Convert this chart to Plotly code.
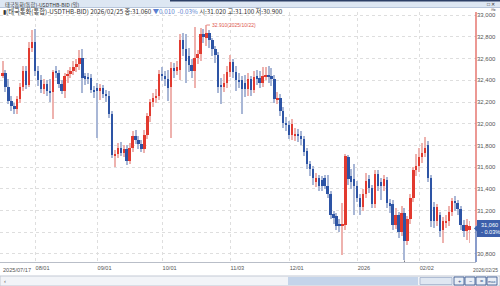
import plotly.graph_objects as go
import pandas as pd

# ---------------- data ----------------
dates = [d.strftime("%Y-%m-%d") for d in pd.bdate_range("2025-07-17", "2026-02-25")
         if d.strftime("%Y-%m-%d") != "2026-01-01"]

opens = [32.44, 32.47, 32.34, 32.21, 32.16, 32.14, 32.23, 32.34, 32.49, 32.36,
         32.70, 32.75, 32.49, 32.40, 32.32, 32.37, 32.30, 32.29, 32.48, 32.47,
         32.37, 32.30, 32.44, 32.46, 32.49, 32.52, 32.55, 32.61, 32.44, 32.43,
         32.42, 32.31, 32.33, 32.30, 32.33, 32.27, 32.26, 32.09, 31.70, 31.72,
         31.78, 31.73, 31.77, 31.66, 31.78, 31.89, 31.85, 31.81, 31.77, 31.90,
         32.07, 32.20, 32.24, 32.26, 32.46, 32.44, 32.41, 32.34, 32.51, 32.49,
         32.50, 32.77, 32.69, 32.62, 32.54, 32.49, 32.61, 32.64, 32.83, 32.79,
         32.84, 32.77, 32.69, 32.63, 32.36, 32.34, 32.38, 32.48, 32.57, 32.48,
         32.40, 32.40, 32.38, 32.32, 32.41, 32.31, 32.44, 32.42, 32.38, 32.44,
         32.45, 32.44, 32.41, 32.22, 32.24, 32.12, 32.01, 31.99, 31.90, 31.89,
         31.91, 31.89, 31.86, 31.75, 31.63, 31.58, 31.46, 31.50, 31.48, 31.50,
         31.43, 31.35, 31.17, 31.15, 31.07, 31.06, 31.07, 31.69, 31.52, 31.49,
         31.43, 31.32, 31.23, 31.35, 31.49, 31.41, 31.26, 31.54, 31.46, 31.43,
         31.48, 31.27, 31.26, 31.07, 31.16, 31.00, 31.18, 30.92, 31.12, 31.32,
         31.57, 31.61, 31.69, 31.73, 31.80, 31.50, 31.23, 31.10, 31.16, 31.02,
         31.09, 31.10, 31.19, 31.29, 31.27, 31.21, 31.07, 31.01, 31.02]

highs = [32.58, 32.50, 32.41, 32.26, 32.19, 32.26, 32.38, 32.53, 32.53, 32.75,
         32.86, 32.87, 32.53, 32.45, 32.41, 32.40, 32.41, 32.50, 32.53, 32.50,
         32.40, 32.47, 32.50, 32.52, 32.58, 32.60, 32.68, 32.69, 32.47, 32.47,
         32.46, 32.35, 32.38, 32.37, 32.36, 32.31, 32.30, 32.12, 31.76, 31.82,
         31.83, 31.80, 31.80, 31.82, 31.93, 31.94, 31.89, 31.85, 31.94, 32.10,
         32.23, 32.28, 32.32, 32.50, 32.52, 32.49, 32.50, 32.57, 32.56, 32.58,
         32.83, 32.84, 32.83, 32.70, 32.60, 32.89, 32.68, 32.88, 32.87, 32.91,
         32.86, 32.79, 32.72, 32.66, 32.42, 32.46, 32.53, 32.63, 32.60, 32.53,
         32.47, 32.44, 32.45, 32.47, 32.44, 32.49, 32.50, 32.49, 32.52, 32.52,
         32.53, 32.51, 32.45, 32.29, 32.27, 32.15, 32.06, 32.03, 32.04, 31.96,
         31.95, 31.93, 31.89, 31.78, 31.66, 31.61, 31.55, 31.53, 31.52, 31.53,
         31.53, 31.38, 31.20, 31.18, 31.12, 31.27, 31.72, 31.71, 31.58, 31.63,
         31.47, 31.35, 31.40, 31.55, 31.53, 31.44, 31.57, 31.57, 31.50, 31.53,
         31.51, 31.31, 31.30, 31.22, 31.19, 31.24, 31.22, 31.15, 31.35, 31.60,
         31.72, 31.78, 31.82, 31.88, 31.84, 31.53, 31.28, 31.26, 31.19, 31.14,
         31.16, 31.24, 31.32, 31.33, 31.30, 31.24, 31.11, 31.12, 31.10]

lows = [32.42, 32.29, 32.18, 32.12, 32.09, 32.09, 32.19, 32.30, 32.32, 32.34,
        32.66, 32.44, 32.35, 32.28, 32.27, 32.26, 32.20, 32.04, 32.42, 32.33,
        32.27, 32.24, 32.38, 32.42, 32.45, 32.48, 32.50, 32.28, 32.36, 32.37,
        32.28, 32.24, 31.87, 32.22, 32.24, 32.20, 32.05, 31.68, 31.60, 31.68,
        31.70, 31.69, 31.62, 31.63, 31.74, 31.81, 31.77, 31.74, 31.73, 31.86,
        32.02, 32.15, 32.19, 32.22, 32.39, 32.35, 32.21, 31.87, 32.42, 32.45,
        32.40, 32.62, 32.38, 32.48, 32.42, 32.33, 32.55, 32.58, 32.74, 32.72,
        32.70, 32.62, 32.56, 32.28, 32.18, 32.29, 32.33, 32.43, 32.42, 32.30,
        32.33, 32.09, 32.25, 32.26, 32.26, 32.28, 32.36, 32.33, 32.34, 32.40,
        32.38, 32.35, 32.19, 32.18, 32.07, 31.96, 31.93, 31.86, 31.85, 31.84,
        31.83, 31.80, 31.70, 31.58, 31.52, 31.44, 31.42, 31.38, 31.38, 31.40,
        31.32, 31.12, 31.08, 31.02, 31.00, 30.79, 31.02, 31.44, 31.40, 31.16,
        31.28, 31.16, 31.20, 31.32, 31.36, 31.22, 31.22, 31.38, 31.30, 31.38,
        31.22, 31.18, 31.02, 31.03, 30.95, 30.97, 30.74, 30.88, 31.08, 31.28,
        31.52, 31.56, 31.64, 31.69, 31.46, 31.05, 31.04, 31.06, 30.96, 30.90,
        31.04, 31.06, 31.15, 31.20, 31.16, 31.02, 30.96, 30.93, 30.90]

closes = [32.47, 32.34, 32.21, 32.16, 32.14, 32.23, 32.34, 32.49, 32.36, 32.70,
          32.75, 32.49, 32.40, 32.32, 32.37, 32.30, 32.29, 32.48, 32.47, 32.37,
          32.30, 32.44, 32.46, 32.49, 32.52, 32.55, 32.61, 32.42, 32.41, 32.42,
          32.31, 32.29, 32.30, 32.33, 32.27, 32.26, 32.09, 31.71, 31.72, 31.78,
          31.73, 31.77, 31.66, 31.78, 31.89, 31.85, 31.81, 31.77, 31.90, 32.07,
          32.20, 32.24, 32.26, 32.46, 32.44, 32.41, 32.33, 32.51, 32.49, 32.52,
          32.77, 32.69, 32.58, 32.54, 32.49, 32.61, 32.64, 32.83, 32.80, 32.84,
          32.77, 32.69, 32.63, 32.34, 32.34, 32.38, 32.48, 32.57, 32.48, 32.40,
          32.39, 32.32, 32.32, 32.41, 32.31, 32.43, 32.41, 32.38, 32.44, 32.45,
          32.43, 32.41, 32.23, 32.24, 32.12, 32.01, 31.99, 31.90, 32.00, 31.91,
          31.89, 31.86, 31.74, 31.63, 31.58, 31.50, 31.50, 31.43, 31.43, 31.43,
          31.35, 31.16, 31.13, 31.06, 31.06, 31.08, 31.70, 31.49, 31.46, 31.43,
          31.32, 31.23, 31.35, 31.47, 31.41, 31.26, 31.54, 31.43, 31.43, 31.49,
          31.27, 31.24, 31.07, 31.16, 31.00, 31.18, 30.92, 31.12, 31.32, 31.57,
          31.61, 31.69, 31.73, 31.78, 31.50, 31.10, 31.10, 31.23, 31.01, 31.10,
          31.10, 31.19, 31.29, 31.27, 31.21, 31.07, 31.01, 31.07, 31.06]

ytick_vals = [30.8, 31.0, 31.2, 31.4, 31.6, 31.8, 32.0, 32.2, 32.4, 32.6, 32.8, 33.0]
ytick_text = ["30,800", "", "31,200", "31,400", "31,600", "31,800", "32,000",
              "32,200", "32,400", "32,600", "32,800", "33,000"]
xtick_vals = ["2025-08-01", "2025-09-01", "2025-10-01", "2025-11-03",
              "2025-12-01", "2026-01-02", "2026-02-02"]
xtick_text = ["08/01", "09/01", "10/01", "11/03", "12/01", "2026", "02/02"]

last_close = 31.06
hi_val, hi_date = 32.91, "2025-10-22"
lo_val, lo_date = 30.74, "2026-01-26"

# ---------------- styling ----------------
W, H = 500, 286
PX_L, PX_R = 0, 476          # plot area in pixels
PY_T, PY_B = 12, 262
Y_LO, Y_HI = 30.726, 33.030

UP_BODY, DN_BODY = "#e23a2f", "#2d54a5"
UP_WICK, DN_WICK = "#eeb2ae", "#a9b7d6"
GRID = "#dedede"
FONT = "Liberation Sans"
KFONT = "Noto Sans CJK KR"


def px(x):
    return x / W


def py(y):
    return 1 - y / H


up = [c >= o for o, c in zip(opens, closes)]
wick_col = [UP_WICK if u else DN_WICK for u in up]
body_col = [UP_BODY if u else DN_BODY for u in up]
body_base = [min(o, c) for o, c in zip(opens, closes)]
body_len = [max(abs(c - o), 0.006) for o, c in zip(opens, closes)]
wick_len = [h - l for h, l in zip(highs, lows)]

fig = go.Figure()
fig.add_trace(go.Bar(x=dates, y=wick_len, base=lows, width=0.34,
                     marker=dict(color=wick_col, line=dict(width=0)),
                     hoverinfo="skip"))
fig.add_trace(go.Bar(x=dates, y=body_len, base=body_base, width=0.8,
                     marker=dict(color=body_col, line=dict(width=0)),
                     hoverinfo="skip"))

n = len(dates)
fig.update_layout(
    width=W, height=H, margin=dict(l=0, r=0, t=0, b=0),
    paper_bgcolor="white", plot_bgcolor="white",
    showlegend=False, barmode="overlay", bargap=0,
    xaxis=dict(type="category", domain=[px(PX_L), px(PX_R)],
               range=[-0.85, n + 1.2],
               tickmode="array", tickvals=xtick_vals, ticktext=xtick_text,
               showgrid=True, gridcolor=GRID, griddash="dot", gridwidth=1,
               ticks="", ticklabelposition="outside right",
               tickfont=dict(family=FONT, size=5.6, color="#555"),
               showline=True, linecolor="#b9bec8", linewidth=1,
               zeroline=False, automargin=False),
    yaxis=dict(domain=[1 - PY_B / H, 1 - PY_T / H], range=[Y_LO, Y_HI],
               side="right", tickmode="array", tickvals=ytick_vals, ticktext=ytick_text,
               showgrid=True, gridcolor=GRID, griddash="dot", gridwidth=1,
               ticks="", tickfont=dict(family=FONT, size=6, color="#555"),
               showline=False, zeroline=False, automargin=False),
)

shapes = []
annots = []

# header bands
shapes.append(dict(type="rect", xref="paper", yref="paper", x0=0, x1=1,
                   y0=py(7.5), y1=py(0), fillcolor="#dde7f3", line=dict(width=0), layer="above"))
shapes.append(dict(type="rect", xref="paper", yref="paper", x0=px(170), x1=1,
                   y0=py(1.6), y1=py(0), fillcolor="#2c3f66", line=dict(width=0), layer="above"))
shapes.append(dict(type="line", xref="paper", yref="paper", x0=0, x1=1,
                   y0=py(7.5), y1=py(7.5), line=dict(color="#b7c6db", width=1)))
annots.append(dict(x=px(3), y=py(4.6), xref="paper", yref="paper", showarrow=False,
                   xanchor="left", yanchor="middle",
                   text="태국통화(통합)-USDTHB-BID (일)",
                   font=dict(family=KFONT, size=5.2, color="#333")))
annots.append(dict(x=px(485), y=py(4.4), xref="paper", yref="paper", showarrow=False,
                   xanchor="left", yanchor="middle", text="□ ✕",
                   font=dict(family=FONT, size=5, color="#333")))
annots.append(dict(x=px(489), y=py(9.6), xref="paper", yref="paper", showarrow=False,
                   xanchor="left", yanchor="middle", text="⊟▸",
                   font=dict(family=FONT, size=4.2, color="#777")))

hdr = ("<span style='color:#333'>▮(태국통화(통합)-USDTHB-BID) 2026/02/25 종:31.060 </span>"
       "<span style='color:#5b7fd0'>▼0.010  -0.03%</span>"
       "<span style='color:#333'> 시:31.020 고:31.100 저:30.900</span>")
annots.append(dict(x=px(1), y=py(11.2), xref="paper", yref="paper", showarrow=False,
                   xanchor="left", yanchor="middle", text=hdr,
                   font=dict(family=KFONT, size=6.3, color="#333")))

# right vertical price line (red above, blue below last price)
shapes.append(dict(type="line", xref="paper", yref="y", x0=px(PX_R), x1=px(PX_R),
                   y0=last_close, y1=Y_HI + 0.03, line=dict(color="#e0544c", width=1.2)))
shapes.append(dict(type="line", xref="paper", yref="y", x0=px(PX_R), x1=px(PX_R),
                   y0=Y_LO, y1=last_close, line=dict(color="#3b5ba8", width=1.2)))

# last price box
shapes.append(dict(type="rect", xref="paper", yref="paper", x0=px(477), x1=px(500),
                   y0=py(237), y1=py(220), fillcolor="#3c5fab", line=dict(width=0)))
shapes.append(dict(type="path", xref="paper", yref="paper",
                   path=f"M {px(474)},{py(228.5)} L {px(477.5)},{py(225)} L {px(477.5)},{py(232)} Z",
                   fillcolor="#3c5fab", line=dict(width=0)))
annots.append(dict(x=px(479), y=py(224.5), xref="paper", yref="paper", showarrow=False,
                   xanchor="left", yanchor="middle", text="31,060",
                   font=dict(family=FONT, size=5.6, color="white")))
annots.append(dict(x=px(479), y=py(232), xref="paper", yref="paper", showarrow=False,
                   xanchor="left", yanchor="middle", text="- 0.03%",
                   font=dict(family=FONT, size=5.6, color="white")))

# high / low markers
hi_idx = dates.index(hi_date)
lo_idx = dates.index(lo_date)
shapes.append(dict(type="line", xref="x", yref="y", x0=hi_idx, x1=hi_idx + 1.2,
                   y0=hi_val, y1=hi_val, line=dict(color="#e06a62", width=0.8)))
annots.append(dict(x=hi_idx + 1.2, y=hi_val, xref="x", yref="y", showarrow=False,
                   xanchor="left", yanchor="middle", text="32.910(2025/10/22)",
                   font=dict(family=FONT, size=5, color="#e0564d")))
shapes.append(dict(type="line", xref="x", yref="y", x0=lo_idx - 4, x1=lo_idx,
                   y0=lo_val - 0.03, y1=lo_val - 0.03, line=dict(color="#556", width=0.8)))
shapes.append(dict(type="line", xref="x", yref="y", x0=lo_idx, x1=lo_idx,
                   y0=lo_val - 0.03, y1=lo_val, line=dict(color="#556", width=0.8)))
annots.append(dict(x=lo_idx - 4, y=lo_val - 0.03, xref="x", yref="y", showarrow=False,
                   xanchor="right", yanchor="middle", text="30.740(2026/01/26)",
                   font=dict(family=FONT, size=5, color="#4a5570")))

# first / last date labels
annots.append(dict(x=px(1), y=py(269.5), xref="paper", yref="paper", showarrow=False,
                   xanchor="left", yanchor="middle", text="2025/07/17",
                   font=dict(family=FONT, size=5.6, color="#555")))
annots.append(dict(x=px(499.5), y=py(269.5), xref="paper", yref="paper", showarrow=False,
                   xanchor="right", yanchor="middle", text="2026/02/25",
                   font=dict(family=FONT, size=5, color="#555")))

# bottom scrollbar
shapes.append(dict(type="rect", xref="paper", yref="paper", x0=0, x1=1,
                   y0=py(286), y1=py(276), fillcolor="#f2f4f8",
                   line=dict(color="#c3c9d4", width=1)))
shapes.append(dict(type="rect", xref="paper", yref="paper", x0=px(288), x1=px(418),
                   y0=py(285), y1=py(277), fillcolor="#c4d4ea", line=dict(width=0)))
shapes.append(dict(type="rect", xref="paper", yref="paper", x0=px(420), x1=px(452),
                   y0=py(284.5), y1=py(277.5), fillcolor="#dfe7f2",
                   line=dict(color="#9fb0cc", width=0.8)))
for bx in (454, 465, 476, 487):
    shapes.append(dict(type="rect", xref="paper", yref="paper", x0=px(bx), x1=px(bx + 10),
                       y0=py(285), y1=py(277), fillcolor="#e9eef6",
                       line=dict(color="#2d4f8c", width=0.8)))
annots.append(dict(x=px(2), y=py(281), xref="paper", yref="paper", showarrow=False,
                   xanchor="left", yanchor="middle", text="‹",
                   font=dict(family=FONT, size=6, color="#555")))
for bx, t in ((454, "+"), (465, "−"), (476, "="), (487, "max")):
    annots.append(dict(x=px(bx + 5), y=py(281), xref="paper", yref="paper", showarrow=False,
                       xanchor="center", yanchor="middle", text=t,
                       font=dict(family=FONT, size=4 if t == "max" else 5.5, color="#2d4f8c")))

fig.update_layout(shapes=shapes, annotations=annots)
fig.write_html("out.html")
